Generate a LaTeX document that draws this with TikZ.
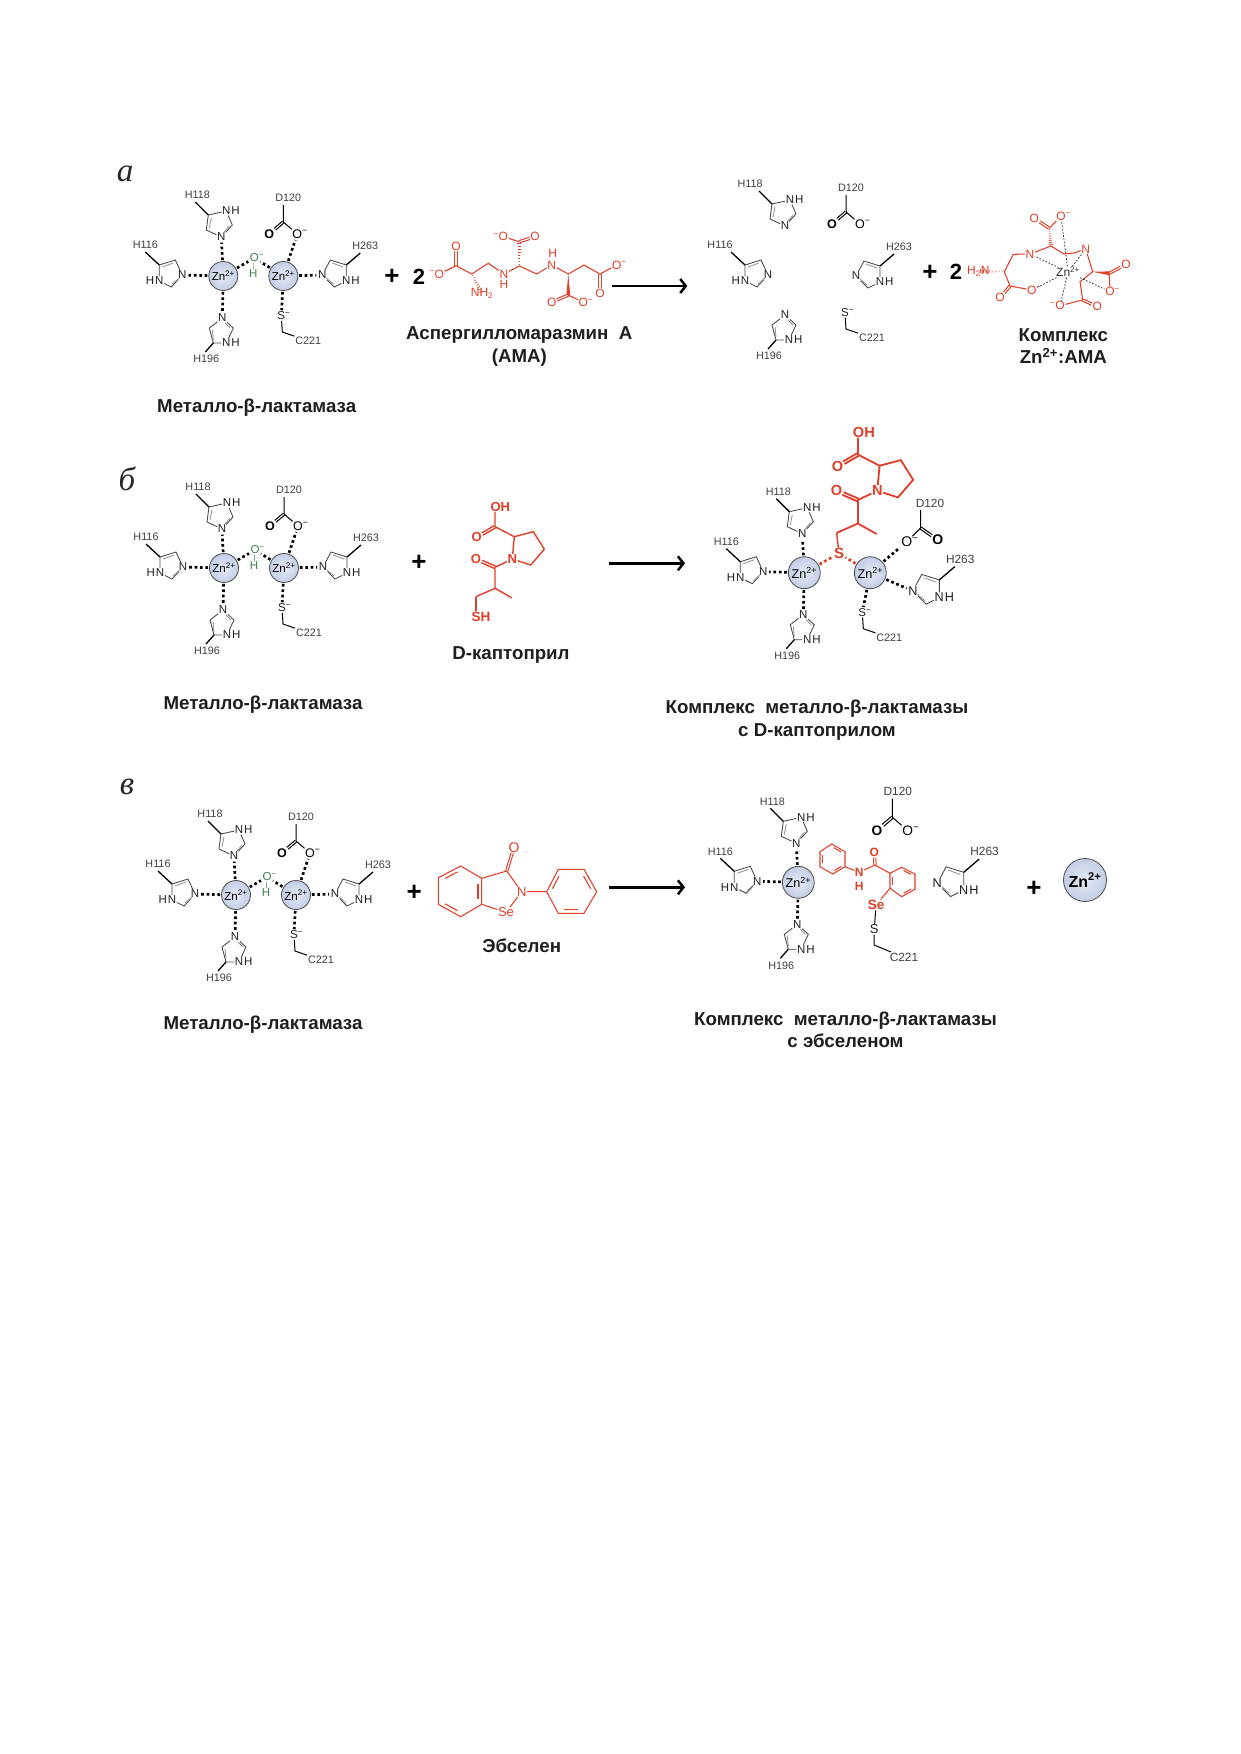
\documentclass[tikz,border=0pt]{standalone}
\usepackage{fontspec}
\setmainfont{Liberation Sans}
\newfontfamily\letterfont{Liberation Serif}
\usetikzlibrary{calc,arrows.meta}
\definecolor{rd}{HTML}{DF3F28}
\definecolor{znin}{HTML}{E6EAF5}
\definecolor{znout}{HTML}{C3CDE6}
\definecolor{dk}{HTML}{1E1E1E}
\definecolor{gr}{HTML}{3F7F50}
\newcommand{\lx}{0}
\newcommand{\minus}{\textsuperscript{−}}
\newcommand{\hashw}[3][1.9]{%
  \foreach \t in {0.08,0.2,...,1.0}{
    \pgfmathsetmacro{\w}{#1*\t+0.2}
    \coordinate (hm) at ($(#2)!\t!(#3)$);
    \draw[rd,line width=.7] ($(hm)!\w pt!90:(#3)$) -- ($(hm)!\w pt!-90:(#3)$);
  }}
\newcommand{\solw}[2]{\fill[rd] (#1) -- ($(#2)!1.9pt!90:(#1)$) -- ($(#2)!1.9pt!-90:(#1)$) -- cycle;}
\newcommand{\innerb}[3]{\draw[rbond] ($($(#1)!.16!(#2)$)!.17!(#3)$) -- ($($(#1)!.84!(#2)$)!.17!(#3)$);}
% double bond: two parallel strokes between the borders of two nodes
\newcommand{\dblb}[4][1.15]{%
  \path (#3) -- (#4) coordinate[pos=0] (dba) coordinate[pos=1] (dbb);
  \draw[#2] ($(dba)!#1pt!90:(dbb)$) -- ($(dbb)!#1pt!-90:(dba)$);
  \draw[#2] ($(dba)!#1pt!-90:(dbb)$) -- ($(dbb)!#1pt!90:(dba)$);}
\tikzset{
  atom/.style={transform shape,inner sep=.5pt,text=dk,font=\fontsize{11.5}{12}\selectfont},
  oatom/.style={atom,inner sep=.4pt,text=black,font=\bfseries\fontsize{12.5}{13}\selectfont},
  lbl/.style={transform shape,inner sep=.8pt,text=black!75,font=\fontsize{10.8}{12}\selectfont},
  ringb/.style={line width=.85,draw=black!72},
  ringi/.style={line width=.85,draw=black!42},
  meth/.style={line width=1.3,draw=black},
  bond/.style={line width=1,draw=black},
  cdbl/.style={line width=1,draw=black},
  dots/.style={line width=2.7,draw=black,dash pattern=on 2.7pt off 2.7pt,shorten <=1pt,shorten >=1pt},
  rdots/.style={dots,draw=rd},
  zn/.style={circle,transform shape,draw=black!70,line width=.8,inner color=znin,outer color=znout,minimum size=29pt,inner sep=0pt,text=black,font=\fontsize{11.5}{12}\selectfont},
  ratom/.style={atom,text=rd,font=\fontsize{12}{13}\selectfont},
  rb/.style={atom,text=rd,font=\bfseries\fontsize{12}{13}\selectfont},
  robig/.style={atom,text=rd,inner sep=.4pt,font=\bfseries\fontsize{13}{14}\selectfont},
  rbond/.style={line width=1.05,draw=rd},
  rdbl/.style={line width=1,draw=rd},
  cbond/.style={line width=1.4,draw=rd},
  capb/.style={align=center,text=dk,inner sep=0pt,font=\bfseries\fontsize{18.7}{22.5}\selectfont},
  plus/.style={inner sep=0pt,text=black,font=\bfseries\fontsize{22}{24}\selectfont},
  plussign/.style={plus,font=\bfseries\fontsize{26}{26}\selectfont},
  rarrow/.style={line width=2.5,draw=black,-{Straight Barb[length=5.5pt,width=14pt,line width=2.5]}},
  zdash/.style={line width=.7,draw=black!85,dash pattern=on 1.7pt off 1.6pt},
  letter/.style={inner sep=0pt,text=black!85,font=\letterfont\itshape\fontsize{33}{34}\selectfont},
  pics/imL/.style={code={
    \coordinate (ca) at (-48,-16); \coordinate (cb) at (-64,-11); \coordinate (cc) at (-52,11); \coordinate (m) at (-78,-24);
    \node[atom] (n) at (-41,-1) {N};
    \node[atom] (nh) at (-64,5) {N};
    \node[atom,anchor=east,inner sep=0pt] (h) at (nh.west) {H};
    \draw[ringb] (n)--(ca)--(cb)--(nh)--(cc)--(n);
    \draw[ringi] (-50,-13)--(-61,-9) (-44,2)--(-51,8);
    \draw[meth] (cb)--(m);
    \node[lbl] (l) at (-78+\lx,-31) {H116};
  }},
  pics/imT/.style={code={
    \coordinate (ca) at (9,-51); \coordinate (cb) at (-15,-61); \coordinate (cc) at (-17,-46); \coordinate (m) at (-28,-74);
    \node[atom] (n) at (-2,-39) {N};
    \node[atom] (nh) at (3,-65) {N};
    \node[atom,anchor=west,inner sep=0pt] (h) at (nh.east) {H};
    \draw[ringb] (n)--(ca)--(nh)--(cb)--(cc)--(n);
    \draw[ringi] (-12,-58)--(-14,-48) (1,-44)--(6,-50);
    \draw[meth] (cb)--(m);
    \node[lbl] (l) at (-26+\lx,-81) {H118};
  }},
  pics/imB/.style={code={
    \coordinate (ca) at (10,52); \coordinate (cb) at (-10,67); \coordinate (cc) at (-14,52); \coordinate (m) at (-18,76);
    \node[atom] (n) at (-1,42) {N};
    \node[atom] (nh) at (3,67) {N};
    \node[atom,anchor=west,inner sep=0pt] (h) at (nh.east) {H};
    \draw[ringb] (n)--(ca)--(nh)--(cb)--(cc)--(n);
    \draw[ringi] (-10,64)--(-11,54) (2,47)--(7,52);
    \draw[meth] (cb)--(m);
    \node[lbl] (l) at (-17,83) {H196};
  }},
  pics/imR/.style={code={
    \coordinate (ca) at (107,-16); \coordinate (cb) at (123,-11); \coordinate (cc) at (111,11); \coordinate (m) at (137,-23);
    \node[atom] (n) at (99,-1) {N};
    \node[atom] (nh) at (123,5) {N};
    \node[atom,anchor=west,inner sep=0pt] (h) at (nh.east) {H};
    \draw[ringb] (n)--(ca)--(cb)--(nh)--(cc)--(n);
    \draw[ringi] (109,-13)--(120,-9) (103,2)--(110,8);
    \draw[meth] (cb)--(m);
    \node[lbl] (l) at (142,-30) {H263};
  }},
  pics/aspa/.style={code={
    \coordinate (c) at (60,-54); \coordinate (t) at (60,-71);
    \node[oatom] (o) at (46,-42) {O};
    \node[oatom,font=\fontsize{12.5}{13}\selectfont] (om) at (74,-42) {O\rlap{\minus}};
    \draw[bond] (t)--(c)--(om);
    \dblb{cdbl}{c}{o}
    \node[lbl] (l) at (65,-78) {D120};
  }},
  pics/cysa/.style={code={
    \coordinate (c) at (59,56);
    \node[atom] (s) at (58,40) {S\rlap{\minus}};
    \node[lbl] (l) at (85,65) {C221};
    \draw[bond] (s)--(c)--(l);
  }},
  pics/capto/.style={code={
    \coordinate (c1) at (-17.3,-32.3); \coordinate (ca) at (2,-22.3); \coordinate (cb) at (21,-27.3);
    \coordinate (cg) at (32,-9.7); \coordinate (cd) at (18.4,6); \coordinate (co) at (-17.3,8.3);
    \coordinate (ch) at (-17.3,29.3); \coordinate (me) at (-0.6,38.7); \coordinate (ch2) at (-36.3,37.7);
    \node[robig] (n) at (0,0) {N};
    \node[robig] (oh) at (-12,-52.3) {OH};
    \node[robig] (o1) at (-35.6,-21.7) {O};
    \node[robig] (o2) at (-36.3,0) {O};
    \draw[cbond] (oh.south -| c1)--(c1)--(ca)--(cb)--(cg)--(cd)--(n)--(ca);
    \draw[cbond] (n)--(co)--(ch)--(me) (ch)--(ch2);
    \dblb[1.3]{cbond}{c1}{o1}
    \dblb[1.3]{cbond}{co}{o2}
  }},
}
\newcommand{\enzyme}[2]{%
  \begin{scope}[shift={(#1,#2)}]
    \node[zn] (z1) at (0,0) {Zn\textsuperscript{2+}};
    \node[zn] (z2) at (60,0) {Zn\textsuperscript{2+}};
    \pic (L) {imL}; \pic (T) {imT}; \pic (B) {imB}; \pic (R) {imR}; \pic (D) {aspa}; \pic (C) {cysa};
    \node[atom,text=gr] (ox) at (31,-18) {O\rlap{\minus}};
    \node[atom,text=gr] (hy) at (30,-2) {H};
    \draw[line width=.5,draw=gr] (ox)--(hy);
    \draw[dots] (z1)--(Ln); \draw[dots] (z1)--(Tn); \draw[dots] (z1)--(Bn);
    \draw[dots] (z1)--(ox); \draw[dots] (z2)--(ox);
    \draw[dots] (z2)--(Dom); \draw[dots] (z2)--(Rn); \draw[dots] (z2)--(Cs);
  \end{scope}}
\begin{document}
\begin{tikzpicture}[x=1pt,y=-1pt]
\useasboundingbox (0,0) rectangle (1240,1754);
\fill[white] (0,0) rectangle (1240,1754);

\node[letter] (la) at (125,174) {а};
\node[letter] (lb) at (127,479) {б};
\node[letter] (lc) at (127,787) {в};

% ---------- panel a
\enzyme{223.3}{276}
\node[capb] (capa) at (256.7,408) {Металло-β-лактамаза};
\node[plussign] (pa1) at (392,277) {+};
\node[plus] (ta2) at (419,277) {2};

% AMA
\node[ratom] (ao1) at (439.3,274) {\llap{\minus}O};
\coordinate (ac1) at (456,265.7);
\node[ratom] (ao2) at (456,246) {O};
\coordinate (aca) at (471.7,274);
\node[ratom] (anh2) at (482,293.3) {NH\textsubscript{2}};
\coordinate (ach) at (488.3,263.3);
\node[ratom] (an1) at (504,274) {N};
\node[ratom] (ah1) at (504,284.3) {H};
\coordinate (acb) at (519.3,266);
\coordinate (ac2) at (519.3,241.7);
\node[ratom] (ao3) at (503.3,236.7) {\llap{\minus}O};
\node[ratom] (ao4) at (535,236.7) {O};
\coordinate (ach2) at (536.7,274);
\node[ratom] (an2) at (551.7,265) {N};
\node[ratom] (ah2) at (552.7,253.3) {H};
\coordinate (acc) at (568.3,274);
\coordinate (ac3) at (568.3,295);
\node[ratom] (ao5) at (551.7,302.3) {O};
\node[ratom] (ao6) at (583.3,302.3) {O\rlap{\minus}};
\coordinate (ach3) at (584,265);
\coordinate (ac4) at (600,274);
\node[ratom] (ao7) at (600,293.3) {O};
\node[ratom] (ao8) at (616.7,265) {O\rlap{\minus}};
\draw[rbond] (ao1)--(ac1)--(aca)--(ach)--(an1)--(acb)--(ach2)--(an2)--(acc)--(ach3)--(ac4)--(ao8);
\draw[rbond] (ac2)--(ao3) (ac3)--(ao6);
\dblb{rdbl}{ac1}{ao2} \dblb{rdbl}{ac2}{ao4} \dblb{rdbl}{ac3}{ao5} \dblb{rdbl}{ac4}{ao7}
\hashw{aca}{anh2}
\hashw{acb}{ac2}
\solw{acc}{ac3}
\node[capb] (capama) at (519.3,346.5) {Аспергилломаразмин\ \ А\\(АМА)};
\draw[rarrow] (611.7,286) -- (687.3,286);

% dissociated
\begin{scope}
  \renewcommand{\lx}{-11}
  \pic (aT) at (787,265) {imT};
  \pic (aL) at (809,276) {imL};
\end{scope}
\pic (aB) at (786,273) {imB};
\pic (aR) at (757,277) {imR};
\pic (aD) at (786,266) {aspa};
\pic (aC) at (787,273) {cysa};
\node[plussign] (pa2) at (930,273) {+};
\node[plus] (ta3) at (956,272) {2};

% complex
\node[atom,text=black!80,font=\fontsize{12}{13}\selectfont] (zc) at (1068,272) {Zn\textsuperscript{2+}};
\node[ratom] (ct) at (1061,216) {O\rlap{\minus}};
\node[ratom] (co) at (1034.3,218.3) {O};
\coordinate (cc1) at (1049.3,228.3);
\coordinate (cca1) at (1051,246);
\node[ratom] (cnl) at (1030,254) {N};
\coordinate (cch) at (1013.3,254.3);
\coordinate (cca2) at (1004.3,271.7);
\node[ratom] (cnh) at (978.3,271) {H\textsubscript{2}N};
\coordinate (cc2) at (1010,286);
\node[ratom] (co2) at (1000,297.7) {O};
\node[ratom] (co3) at (1031.7,290) {O\rlap{\minus}};
\coordinate (cc3) at (1064,254);
\coordinate (cc3b) at (1074,253);
\node[ratom] (cnr) at (1085.7,249) {N};
\coordinate (cca3) at (1092.7,271.7);
\coordinate (cc4) at (1109.3,273.3);
\node[ratom] (co4) at (1126,264.3) {O};
\node[ratom] (co5) at (1110,291.7) {O\rlap{\minus}};
\coordinate (cc5) at (1080,281.7);
\coordinate (cc6) at (1082.7,300);
\node[ratom] (co6) at (1097.3,306.7) {O};
\node[ratom] (co7) at (1060,305.7) {\llap{\minus}O};
\draw[rbond] (ct)--(cc1) (cca1)--(cnl)--(cch)--(cca2)--(cc2)--(co3);
\draw[rbond] (cca1)--(cc3)--(cc3b)--(cnr)--(cca3)--(cc5)--(cc6)--(co7) (cc4)--(co5);
\dblb{rdbl}{cc1}{co} \dblb{rdbl}{cc2}{co2} \dblb{rdbl}{cc4}{co4} \dblb{rdbl}{cc6}{co6}
\hashw{cc1}{cca1}
\hashw{cca2}{cnh}
\solw{cca3}{cc4}
\draw[zdash] (zc)--(ct); \draw[zdash] (zc)--(cnl); \draw[zdash] (zc)--(cnr);
\draw[zdash] (zc)--(co3); \draw[zdash] (zc)--(co5); \draw[zdash] (zc)--(co7);
\node[capb] (capcx) at (1063.3,346) {Комплекс\\Zn\textsuperscript{2+}:АМА};

% ---------- panel b
\enzyme{224}{568}
\node[capb] (capb1) at (263,705) {Металло-β-лактамаза};
\node[plussign] (pb1) at (419,563) {+};
\pic (bK) at (512.3,559) {capto};
\node[ratom,font=\bfseries\fontsize{13.5}{14}\selectfont] (bsh) at (481,616.7) {SH};
\draw[cbond] (bKch2)--(bsh.north -| bKch2);
\node[capb] (capcap) at (511,655) {D-каптоприл};
\draw[rarrow] (609.3,563.3) -- (685,563.3);

\begin{scope}[shift={(804.3,572.7)},scale=1.1]
  \node[zn] (bz1) at (0,0) {Zn\textsuperscript{2+}};
  \node[zn] (bz2) at (60,0) {Zn\textsuperscript{2+}};
  \pic (bL) {imL}; \pic (bT) {imT}; \pic (bB) {imB};
  \pic (bC) {cysa};
\end{scope}
\pic[scale=1.1] (bR) at (804,592) {imR};
\begin{scope}[cbond/.style={line width=1.8,draw=rd}]
  \pic[scale=1.12] (bX) at (877.3,490.7) {capto};
\end{scope}
\node[atom,text=rd,font=\bfseries\fontsize{15}{16}\selectfont] (bs) at (839,553.3) {S};
\draw[rbond,line width=1.4] (bXch2)--(bs);
\draw[rdots] (bz1)--(bs); \draw[rdots] (bz2)--(bs);
\coordinate (bdc) at (920.7,528); \coordinate (bdt) at (920.7,510);
\node[oatom,font=\fontsize{14}{15}\selectfont] (bdm) at (906.7,541.7) {O\rlap{\minus}};
\node[oatom,font=\bfseries\fontsize{14}{15}\selectfont] (bdo) at (937.7,540) {O};
\node[lbl,scale=1.1] (bdl) at (930,503) {D120};
\draw[bond] (bdt)--(bdc)--(bdm);
\dblb{cdbl}{bdc}{bdo}
\draw[dots] (bz1)--(bLn); \draw[dots] (bz1)--(bTn); \draw[dots] (bz1)--(bBn);
\draw[dots] (bz2)--(bdm); \draw[dots] (bz2)--(bRn); \draw[dots] (bz2)--(bCs);
\node[capb] (capb2) at (817,720) {Комплекс\ \ металло-β-лактамазы\\с D-каптоприлом};

% ---------- panel c
\enzyme{236}{895}
\node[capb] (capc1) at (263,1025) {Металло-β-лактамаза};
\node[plussign] (pc1) at (414.3,892.7) {+};
% ebselen
\coordinate (e1) at (438.3,877.7); \coordinate (e2) at (460.7,866); \coordinate (e3) at (481.7,878.3);
\coordinate (e4) at (481.7,904.3); \coordinate (e5) at (460.7,916.7); \coordinate (e6) at (438.3,904.3);
\coordinate (ec) at (460,891.5);
\coordinate (ef) at (506.7,871);
\node[ratom,font=\fontsize{14}{15}\selectfont] (eo) at (514,847.3) {O};
\node[ratom,font=\fontsize{13}{14}\selectfont] (en) at (521.7,891.7) {N};
\node[ratom,font=\fontsize{13}{14}\selectfont] (ese) at (506,912.3) {Se};
\coordinate (p1) at (546.7,891.7); \coordinate (p2) at (558.3,869.3); \coordinate (p3) at (584,869.3);
\coordinate (p4) at (596.7,891.7); \coordinate (p5) at (584,913.3); \coordinate (p6) at (558.3,913.3);
\coordinate (pc) at (571.5,891.5);
\draw[rbond] (e1)--(e2)--(e3)--(e4)--(e5)--(e6)--cycle;
\draw[rbond] (p1)--(p2)--(p3)--(p4)--(p5)--(p6)--cycle;
\draw[rbond] (e3)--(ef)--(en)--(ese)--(e4) (en)--(p1);
\dblb{rdbl}{ef}{eo}
\innerb{e1}{e2}{ec} \innerb{e3}{e4}{ec} \innerb{e5}{e6}{ec}
\innerb{p1}{p2}{pc} \innerb{p3}{p4}{pc} \innerb{p5}{p6}{pc}
\node[capb] (capeb) at (521.7,945.7) {Эбселен};
\draw[rarrow] (609.3,887.3) -- (685,887.3);

\begin{scope}[shift={(798.3,882.3)},scale=1.1]
  \node[zn] (cz1) at (0,0) {Zn\textsuperscript{2+}};
  \pic (cL) {imL}; \pic (cT) {imT}; \pic (cB) {imB};
\end{scope}
\draw[dots] (cz1)--(cLn); \draw[dots] (cz1)--(cTn); \draw[dots] (cz1)--(cBn);
\pic[scale=1.1] (cD) at (826.3,876.7) {aspa};
\pic[scale=1.1] (cR) at (828.4,884.4) {imR};
% red fragment
\coordinate (f1) at (831.7,844); \coordinate (f2) at (845,851.7); \coordinate (f3) at (845,866.7);
\coordinate (f4) at (832.7,874); \coordinate (f5) at (820,866.7); \coordinate (f6) at (820,851.7);
\coordinate (fc) at (832.5,859);
\node[rb] (fn) at (859.3,872.3) {N};
\node[rb] (fh) at (859.3,886.7) {H};
\coordinate (fco) at (875,865);
\node[rb] (fo) at (874.3,852.7) {O};
\coordinate (g1) at (890,873.3); \coordinate (g2) at (901.7,867.3); \coordinate (g3) at (915,874);
\coordinate (g4) at (915,889.3); \coordinate (g5) at (901.7,896.7); \coordinate (g6) at (890,888.3);
\coordinate (gc) at (902.5,881.5);
\node[rb,font=\bfseries\fontsize{13.5}{14}\selectfont] (fse) at (876,905) {Se};
\node[atom,font=\fontsize{13}{14}\selectfont] (fs) at (874.3,929.3) {S};
\coordinate (fch) at (874,945);
\node[lbl,scale=1.1] (fl) at (904,957.3) {C221};
\draw[rbond] (f1)--(f2)--(f3)--(f4)--(f5)--(f6)--cycle;
\draw[rbond] (g1)--(g2)--(g3)--(g4)--(g5)--(g6)--cycle;
\draw[rbond] (f3)--(fn)--(fco)--(g1) (g6)--(fse);
\dblb{rdbl}{fco}{fo}
\innerb{f1}{f2}{fc} \innerb{f3}{f4}{fc} \innerb{f5}{f6}{fc}
\innerb{g2}{g3}{gc} \innerb{g4}{g5}{gc} \innerb{g6}{g1}{gc}
\draw[bond] (fse)--(fs)--(fch)--(fl);
\node[plussign] (pc2) at (1034,889) {+};
\node[zn,minimum size=43pt,font=\bfseries\fontsize{16}{17}\selectfont] (zfree) at (1085,880) {Zn\textsuperscript{2+}};
\node[capb] (capc2) at (845.5,1029.7) {Комплекс\ \ металло-β-лактамазы\\с эбселеном};
\end{tikzpicture}
\end{document}
